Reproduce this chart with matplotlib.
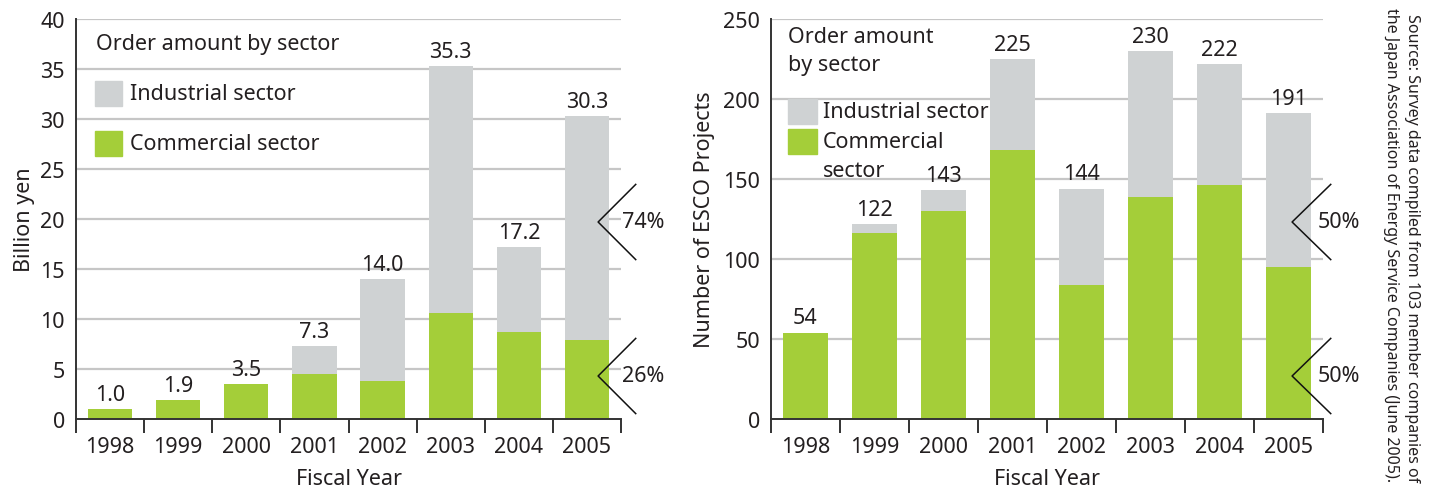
import matplotlib
matplotlib.use("Agg")
import matplotlib.pyplot as plt
import numpy as np
from matplotlib.patches import Rectangle

# ---- data ---------------------------------------------------------------
years = ["1998", "1999", "2000", "2001", "2002", "2003", "2004", "2005"]

# order amount (billion yen)
yen_commercial = [1.0, 1.9, 3.5, 4.5, 3.8, 10.6, 8.7, 7.9]
yen_industrial = [0.0, 0.0, 0.0, 2.8, 10.2, 24.7, 8.5, 22.4]
yen_share = ["74%", "26%"]          # industrial / commercial share, 2005

# number of ESCO projects
esco_commercial = [54, 116, 130, 168, 84, 139, 146, 95]
esco_industrial = [0, 6, 13, 57, 60, 91, 76, 96]
esco_share = ["50%", "50%"]

source_note = ("Source: Survey data compiled from 103 member companies of\n"
               "the Japan Association of Energy Service Companies (June 2005).")

# ---- style --------------------------------------------------------------
GREEN = "#a4ce39"
GREY = "#cfd2d3"
GRID = "#c6c6c6"
TEXT = "#231f20"
plt.rcParams["font.family"] = ["Noto Sans", "DejaVu Sans"]
plt.rcParams["text.color"] = TEXT
FS = 15.5

fig = plt.figure(figsize=(14.31, 4.89), dpi=100)
W, H = 1431, 489


def axes_at(x0, x1, y_top, y_bot):
    return fig.add_axes([x0 / W, 1 - y_bot / H, (x1 - x0) / W, (y_bot - y_top) / H])


def stacked(ax, commercial, industrial, ymax, ystep, fmt):
    x = np.arange(len(years))
    commercial = np.asarray(commercial, dtype=float)
    industrial = np.asarray(industrial, dtype=float)
    total = commercial + industrial
    ax.set_xlim(-0.5, len(years) - 0.5)
    ax.set_ylim(0, ymax)
    ticks = np.arange(0, ymax + ystep / 2, ystep)
    for t in ticks[1:]:
        ax.axhline(t, color=GRID, lw=1.6, zorder=0)
    ax.bar(x, commercial, width=0.65, color=GREEN, zorder=2)
    ax.bar(x, industrial, width=0.65, bottom=commercial, color=GREY, zorder=2)
    for xi, tot in zip(x, total):
        ax.annotate(fmt.format(tot), (xi, tot), xytext=(0, 3),
                    textcoords="offset points", ha="center", va="bottom",
                    fontsize=FS, color=TEXT)
    ax.set_yticks(ticks)
    ax.set_yticklabels([f"{t:g}" for t in ticks], fontsize=FS, color=TEXT)
    ax.tick_params(axis="y", length=0, pad=8)
    ax.set_xticks(x)
    ax.set_xticklabels(years, fontsize=FS, color=TEXT)
    ax.set_xticks(np.arange(-0.5, len(years)), minor=True)
    ax.tick_params(axis="x", which="major", length=0, pad=12)
    ax.tick_params(axis="x", which="minor", length=10, width=1.4, color="#333333",
                   direction="out")
    for s in ("top", "right"):
        ax.spines[s].set_visible(False)
    for s in ("left", "bottom"):
        ax.spines[s].set_color("#333333")
        ax.spines[s].set_linewidth(1.4)
    ax.set_xlabel("Fiscal Year", fontsize=FS, color=TEXT, labelpad=8)


def bracket(ax, xv, xa, yv, dy, label, xt):
    kw = dict(transform=ax.transAxes, clip_on=False, color="#111111", lw=1.1)
    ax.plot([xa, xv, xa], [yv + dy, yv, yv - dy], **kw)
    ax.text(xt, yv, label, transform=ax.transAxes, fontsize=FS,
            ha="left", va="center", color=TEXT)


def label(ax, x, y, s, **kw):
    ax.text(x, y, s, transform=ax.transAxes, fontsize=FS, ha="left",
            va=kw.pop("va", "center"), **kw)


# ---- left: order amount -------------------------------------------------
ax1 = axes_at(76, 621, 20, 420)
stacked(ax1, yen_commercial, yen_industrial, 40, 5, "{:.1f}")
ax1.set_ylabel("Billion yen", fontsize=FS, color=TEXT, labelpad=4)
label(ax1, 0.037, 0.9375, "Order amount by sector")
ax1.add_patch(Rectangle((0.035, 0.7825), 0.05, 0.0625, color=GREY,
                        transform=ax1.transAxes, zorder=3))
ax1.add_patch(Rectangle((0.035, 0.6575), 0.05, 0.0625, color=GREEN,
                        transform=ax1.transAxes, zorder=3))
label(ax1, 0.1, 0.8125, "Industrial sector")
label(ax1, 0.1, 0.6875, "Commercial sector")
bracket(ax1, 0.958, 1.027, 0.4925, 0.094, yen_share[0], 1.002)
bracket(ax1, 0.958, 1.027, 0.1075, 0.094, yen_share[1], 1.002)

# ---- right: number of projects -----------------------------------------
ax2 = axes_at(771, 1323, 20, 420)
stacked(ax2, esco_commercial, esco_industrial, 250, 50, "{:.0f}")
ax2.set_ylabel("Number of ESCO Projects", fontsize=FS, color=TEXT, labelpad=6)
label(ax2, 0.031, 0.955, "Order amount")
label(ax2, 0.031, 0.885, "by sector")
ax2.add_patch(Rectangle((0.031, 0.7375), 0.0525, 0.0625, color=GREY,
                        transform=ax2.transAxes, zorder=3))
ax2.add_patch(Rectangle((0.031, 0.6625), 0.0525, 0.0625, color=GREEN,
                        transform=ax2.transAxes, zorder=3))
label(ax2, 0.094, 0.7675, "Industrial sector")
label(ax2, 0.094, 0.6925, "Commercial")
label(ax2, 0.094, 0.62, "sector")
bracket(ax2, 0.944, 1.014, 0.4925, 0.094, esco_share[0], 0.991)
bracket(ax2, 0.944, 1.014, 0.1075, 0.094, esco_share[1], 0.991)

# ---- source note ---------------------------------------------------------
fig.text(1420 / W, 1 - 8 / H, source_note, rotation=270, ha="right", va="top",
         fontsize=11.5, color=TEXT, linespacing=1.4)

fig.savefig("out.png", dpi=100)
